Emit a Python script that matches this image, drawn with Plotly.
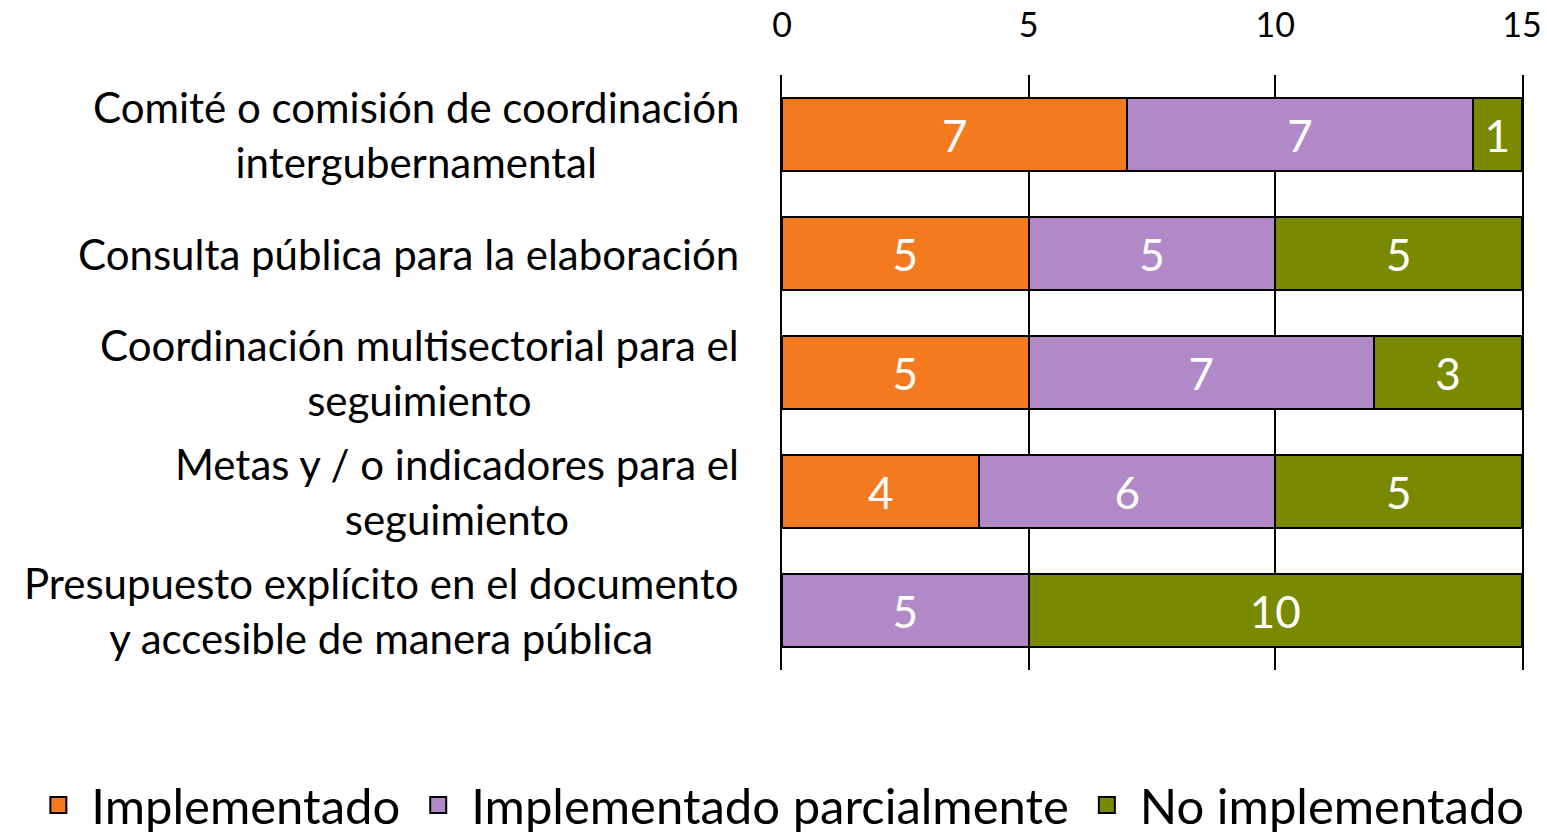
import plotly.graph_objects as go

categories = [
    "Comité o comisión de coordinación<br>intergubernamental",
    "Consulta pública para la elaboración",
    "Coordinación multisectorial para el<br>seguimiento",
    "Metas y / o indicadores para el<br>seguimiento",
    "Presupuesto explícito en el documento<br>y accesible de manera pública",
]
series_names = ["Implementado", "Implementado parcialmente", "No implementado"]
implementado = [7, 5, 5, 4, 0]
parcial = [7, 5, 7, 6, 5]
no_impl = [1, 5, 3, 5, 10]
colors = ["#F47A20", "#B189C7", "#7A8A00"]
x_ticks = [0, 5, 10, 15]

FONT = "Lato"
fig = go.Figure()
for name, vals, col in zip(series_names, [implementado, parcial, no_impl], colors):
    fig.add_trace(go.Bar(
        y=categories, x=vals, orientation="h", name=name,
        marker=dict(color=col, line=dict(color="black", width=2)),
        text=[str(v) if v else "" for v in vals],
        textposition="inside", insidetextanchor="middle", textangle=0,
        textfont=dict(color="white", size=44, family=FONT),
        showlegend=False,
    ))
    fig.add_trace(go.Scatter(
        x=[None], y=[None], mode="markers", name=name,
        marker=dict(symbol="square", size=28, color=col, line=dict(color="black", width=2)),
    ))

for c in categories:
    fig.add_annotation(
        x=-0.056, xref="paper", y=c, yref="y", xanchor="right", yanchor="middle",
        text=c, align="center", showarrow=False,
        font=dict(size=42, family=FONT, color="black"),
    )

fig.update_layout(
    barmode="stack", bargap=0.38,
    width=1547, height=833,
    margin=dict(l=782, r=25, t=75, b=163, autoexpand=False),
    plot_bgcolor="white", paper_bgcolor="white",
    font=dict(family=FONT, color="black"),
    legend=dict(orientation="h", xref="paper", yref="paper",
                x=-1.0225, y=-0.227, xanchor="left", yanchor="middle",
                traceorder="normal", itemwidth=56,
                font=dict(size=49, family=FONT), itemsizing="trace"),
    xaxis=dict(side="top", range=[0, 15], tickvals=x_ticks, showgrid=True,
               gridcolor="black", gridwidth=2, zeroline=False, showline=False,
               automargin=False,
               tickfont=dict(size=34, family=FONT), ticklabelstandoff=30),
    yaxis=dict(autorange="reversed", showticklabels=False, showgrid=False,
               zeroline=False, showline=True, mirror=True, linecolor="black",
               linewidth=2, automargin=False),
)
fig.write_html("out.html", config={"displayModeBar": False},
               post_script="document.body.style.margin='0';document.body.style.overflow='hidden';")
